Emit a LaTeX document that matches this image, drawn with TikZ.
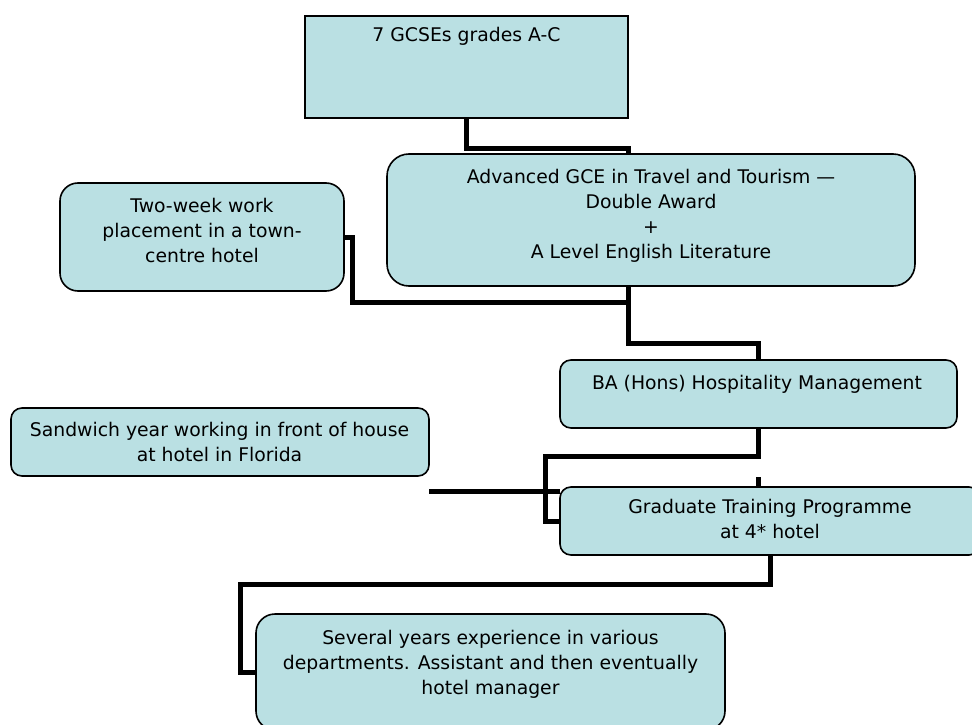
\documentclass[tikz,border=0pt]{standalone}
\usepackage{fontspec}
\setmainfont{DejaVu Sans}
\definecolor{cardfill}{RGB}{186,224,227}
\begin{document}
\begin{tikzpicture}[x=1pt,y=-1pt,
  card/.style={draw=black, line width=1.6pt, fill=cardfill, inner sep=0pt,
    outer sep=0pt, rounded corners=#1},
  card/.default=0pt,
  txt/.style={align=center, inner sep=0pt, text=black,
    font=\fontsize{18.8}{25}\selectfont},
  conn/.style={draw=black, line width=5pt, line join=miter, line cap=butt}]
\clip (0,0) rectangle (972,725);

% boxes
\node[card, minimum width=323pt, minimum height=102pt] (gcse) at (466.5,67) {};
\node[card=22pt, minimum width=528pt, minimum height=132pt] (gce) at (651,220) {};
\node[card=18pt, minimum width=284pt, minimum height=108pt] (work) at (202,237) {};
\node[card=11pt, minimum width=397pt, minimum height=68pt] (ba) at (758.5,394) {};
\node[card=11pt, minimum width=418pt, minimum height=68pt] (sandwich) at (220,442) {};
\node[card=11pt, minimum width=420pt, minimum height=68pt] (grad) at (770,521) {};
\node[card=19pt, minimum width=469pt, minimum height=116pt] (sev) at (490.5,672) {};

% texts
\node[txt] (gcse-t) at (466.5,36) {7 GCSEs grades A-C};
\node[txt] (gce-t) at (651,215.5) {Advanced GCE in Travel and Tourism —\\Double Award\\+\\A Level English Literature};
\node[txt] (work-t) at (202,230.5) {Two-week work\\placement in a town-\\centre hotel};
\node[txt] (ba-t) at (757,384) {BA (Hons) Hospitality Management};
\node[txt] (sandwich-t) at (219.5,441.5) {Sandwich year working in front of house\\at hotel in Florida};
\node[txt] (grad-t) at (770,519) {Graduate Training Programme\\at 4* hotel};
\node[txt] (sev-t) at (490.5,664) {Several years experience in various\\departments. Assistant and then eventually\\hotel manager};

% connectors
\draw[conn] (gcse.south) -- ++(0,30) -| ([xshift=-23pt]gce.north);
\draw[conn] ([xshift=-23pt]gce.south) -- ++(0,57) -| (ba.north);
\draw[conn] (work.east) -- ++(8,0) |- ([xshift=-23pt,yshift=-16pt]gce.south);
\draw[conn] (ba.south) -- ++(0,28) -| ([xshift=-15pt]grad.west) -- (grad.west);
\draw[conn] (ba.south |- grad.north) -- ++(0,-10);
\path ([yshift=-4pt]grad.north west) coordinate (gradin);
\draw[conn] (gradin) -- (gradin -| sandwich.east);
\draw[conn] (grad.south) -- ++(0,29) -| ([xshift=-16pt]sev.west) -- (sev.west);
\end{tikzpicture}
\end{document}
